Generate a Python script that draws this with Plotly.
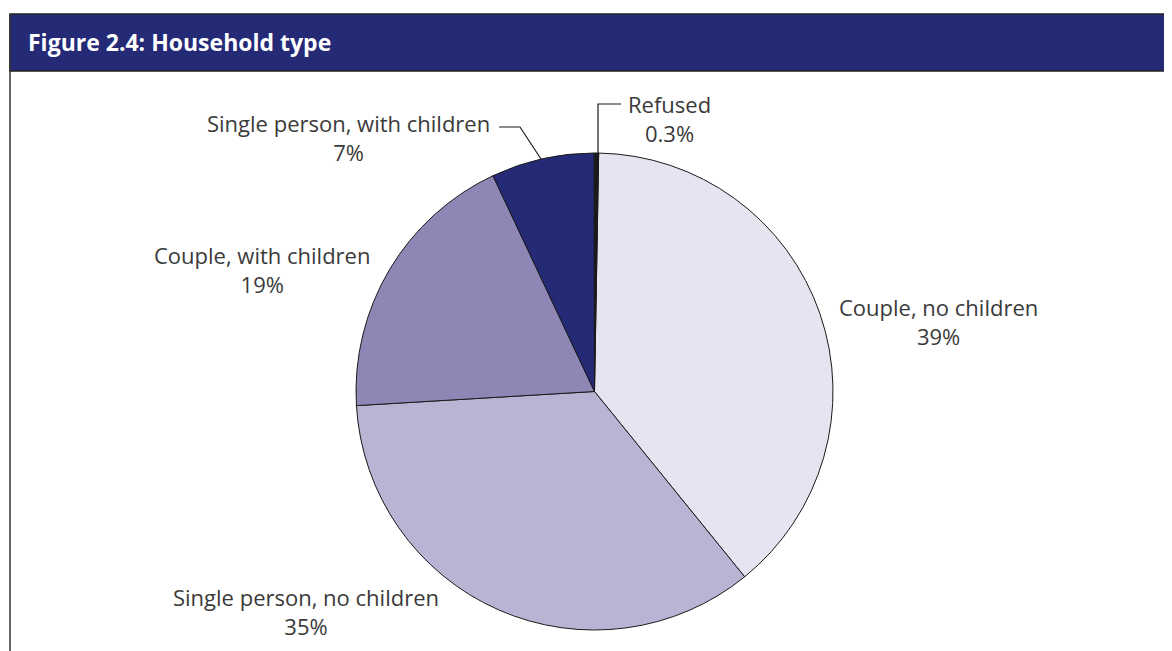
import plotly.graph_objects as go

# household type shares (%), clockwise from just past 12 o'clock
categories = [
    "Couple, no children",
    "Single person, no children",
    "Couple, with children",
    "Single person, with children",
    "Refused",
]
shares = [39, 35, 19, 7, 0.3]
share_labels = ["39%", "35%", "19%", "7%", "0.3%"]
colors = ["#E6E4F0", "#B8B4D4", "#8E86B5", "#252A77", "#1A1A1A"]

# page body has an 8px margin, so the figure is shifted by that much
OFF = 8
W, H = 1172 - OFF, 651 - OFF
NAVY = "#252A77"
TXT = "#3A3A3A"


def px_x(x):
    return (x - OFF) / W


def px_y(y):
    return 1 - (y - OFF) / H


fig = go.Figure()
fig.add_trace(go.Pie(
    labels=categories,
    values=shares,
    sort=False,
    direction="clockwise",
    rotation=1,
    marker=dict(colors=colors, line=dict(color="#1A1A1A", width=1)),
    textinfo="none",
    hoverinfo="label+percent",
    showlegend=False,
    domain=dict(x=[px_x(356), px_x(833)], y=[px_y(630), px_y(153)]),
))

# label positions (centre of text block, pixels)
label_pos = [(938, 321), (306, 611), (262, 269), (348, 137), (669, 118)]
for name, lab, (x, y) in zip(categories, share_labels, label_pos):
    fig.add_annotation(
        x=px_x(x), y=px_y(y), xref="paper", yref="paper",
        text=f"{name}<br>{lab}", showarrow=False,
        font=dict(family="Open Sans", size=22, color=TXT),
        align="center", xanchor="center", yanchor="middle",
    )

shapes = [
    # header band
    dict(type="rect", xref="paper", yref="paper",
         x0=px_x(10), x1=1.02, y0=px_y(71), y1=px_y(14),
         fillcolor=NAVY, line=dict(color="#222222", width=1.5)),
    # left frame line
    dict(type="line", xref="paper", yref="paper",
         x0=px_x(10), x1=px_x(10), y0=-0.02, y1=px_y(14),
         line=dict(color="#333333", width=1.5)),
    # leader for single person, with children
    dict(type="path", xref="paper", yref="paper",
         path=f"M {px_x(499)},{px_y(127)} L {px_x(520)},{px_y(127)} L {px_x(541)},{px_y(159)}",
         line=dict(color="#1A1A1A", width=1.2)),
    # leader for refused
    dict(type="path", xref="paper", yref="paper",
         path=f"M {px_x(621)},{px_y(104)} L {px_x(598)},{px_y(104)} L {px_x(598)},{px_y(153)}",
         line=dict(color="#1A1A1A", width=1.2)),
]

fig.add_annotation(
    x=px_x(26), y=px_y(42), xref="paper", yref="paper",
    text="<b>Figure 2.4: Household type</b>", showarrow=False,
    font=dict(family="Open Sans", size=23, color="white"),
    xanchor="left", yanchor="middle",
)

fig.update_layout(
    width=W, height=H,
    margin=dict(l=0, r=0, t=0, b=0),
    paper_bgcolor="white",
    plot_bgcolor="white",
    shapes=shapes,
)

fig.write_html("out.html")
